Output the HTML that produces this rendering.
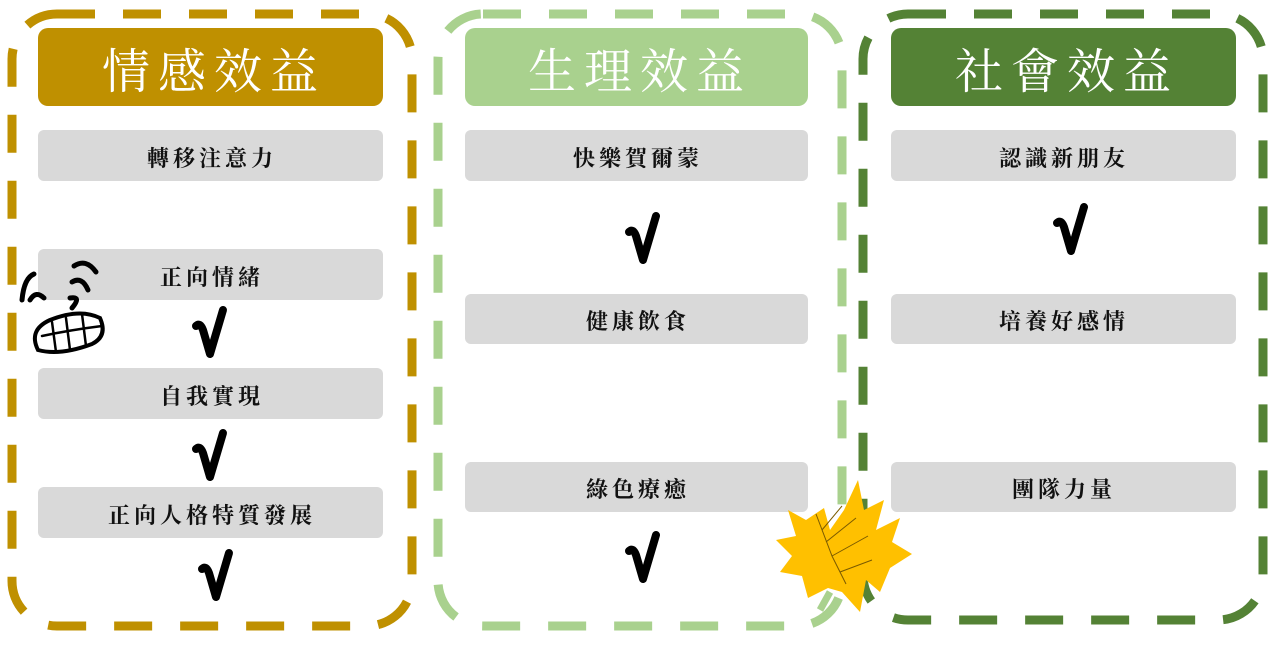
<!DOCTYPE html>
<html><head><meta charset="utf-8"><style>
html,body{margin:0;padding:0;background:#fff;}
svg{display:block;}
.h{font-family:"Liberation Serif","Noto Serif CJK SC",serif;font-size:48px;fill:#fff;text-anchor:middle;letter-spacing:8px;}
.b{font-family:"Liberation Serif","Noto Serif CJK SC",serif;font-size:22px;font-weight:bold;fill:#111;text-anchor:middle;letter-spacing:4px;}
</style></head><body>
<svg width="1277" height="664" viewBox="0 0 1277 664" xmlns="http://www.w3.org/2000/svg">
<defs>
<path id="ck" d="M-14 -10 Q-10 -14 -7 -6 L0 18 L13 -26" fill="none" stroke="#000" stroke-width="8" stroke-linecap="round" stroke-linejoin="round"/>
</defs>
<!-- panels -->
<rect x="12" y="14" width="400" height="612" rx="45" fill="none" stroke="#BF9000" stroke-width="9" stroke-dasharray="38 28"/>
<rect x="438" y="14" width="404" height="612" rx="45" fill="none" stroke="#A9D18E" stroke-width="9" stroke-dasharray="38 28"/>
<rect x="863" y="14" width="400" height="606" rx="45" fill="none" stroke="#548235" stroke-width="9" stroke-dasharray="38 28"/>
<!-- headers -->
<rect x="38" y="28" width="345" height="78" rx="10" fill="#BF9000"/>
<text class="h" x="214" y="88">情感效益</text>
<rect x="465" y="28" width="343" height="78" rx="10" fill="#A9D18E"/>
<text class="h" x="640" y="88">生理效益</text>
<rect x="891" y="28" width="345" height="78" rx="10" fill="#548235"/>
<text class="h" x="1067" y="88">社會效益</text>
<!-- gray boxes -->
<g fill="#D9D9D9">
<rect x="38" y="130" width="345" height="51" rx="6"/>
<rect x="38" y="249" width="345" height="51" rx="6"/>
<rect x="38" y="368" width="345" height="51" rx="6"/>
<rect x="38" y="487" width="345" height="51" rx="6"/>
<rect x="465" y="130" width="343" height="51" rx="6"/>
<rect x="465" y="294" width="343" height="50" rx="6"/>
<rect x="465" y="462" width="343" height="50" rx="6"/>
<rect x="891" y="130" width="345" height="51" rx="6"/>
<rect x="891" y="294" width="345" height="50" rx="6"/>
<rect x="891" y="462" width="345" height="50" rx="6"/>
</g>
<text class="b" x="212" y="166">轉移注意力</text>
<text class="b" x="212" y="285">正向情緒</text>
<text class="b" x="212" y="404">自我實現</text>
<text class="b" x="212" y="523">正向人格特質發展</text>
<text class="b" x="638" y="166">快樂賀爾蒙</text>
<text class="b" x="638" y="329">健康飲食</text>
<text class="b" x="638" y="497">綠色療癒</text>
<text class="b" x="1064" y="166">認識新朋友</text>
<text class="b" x="1064" y="329">培養好感情</text>
<text class="b" x="1064" y="497">團隊力量</text>
<!-- checks -->
<use href="#ck" x="210" y="336"/>
<use href="#ck" x="210" y="459"/>
<use href="#ck" x="216" y="579"/>
<use href="#ck" x="643" y="242"/>
<use href="#ck" x="643" y="561"/>
<use href="#ck" x="1071" y="233"/>
<!-- face -->
<g fill="none" stroke="#000" stroke-width="5" stroke-linecap="round">
<path d="M22 300 Q24 278 34 274"/>
<path d="M30 300 Q36 290 44 298"/>
<path d="M74 266 Q86 258 96 272"/>
<path d="M72 282 Q82 276 88 290"/>
<path d="M70 298 Q82 296 72 308"/>
<path d="M38 350 Q28 330 50 320 Q80 308 100 318 Q108 336 92 344 Q60 356 38 350 Z" stroke-width="4"/>
<path d="M42 336 Q70 330 102 326" stroke-width="2.5"/>
<path d="M52 322 L56 352 M66 318 L70 350 M82 314 L86 346" stroke-width="2.5"/>
</g>
<!-- leaf -->
<g transform="translate(772,480)">
<path d="M58 112 L48 130" stroke="#A9D18E" stroke-width="7"/>
<path d="M86 0 L92 30 L112 20 L104 50 L128 38 L120 62 L140 74 L118 88 L108 112 L94 100 L88 132 L70 112 L56 108 L36 118 L30 96 L8 92 L20 76 L4 60 L24 56 L16 30 L34 40 L52 28 L58 50 L72 30 Z" fill="#FFC000"/>
<g stroke="#7a5a00" stroke-width="1" fill="none">
<path d="M74 104 L60 76 L44 34 M60 76 L96 56 M54 62 L84 38 M50 50 L70 26 M68 92 L100 80"/>
</g>
</g>
</svg>
</body></html>
